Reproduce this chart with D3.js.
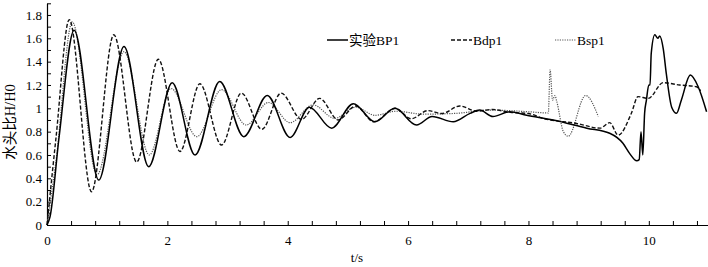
<!DOCTYPE html>
<html>
<head>
  <meta charset="utf-8">
  <script src="https://cdnjs.cloudflare.com/ajax/libs/d3/7.8.5/d3.min.js"></script>
  <style>
    body { margin: 0; background: #fff }
    text { font-family: "Liberation Serif", "Noto Sans CJK SC", serif; fill: #000 }
  </style>
</head>
<body>
  <div id="chart"></div>

  <script>
    // 实验BP1
    const expT = [0, 0.05, 0.2, 0.45, 0.86, 1.28, 1.69, 2.08, 2.46, 2.87, 3.27, 3.66, 4.04, 4.36, 4.73, 5.09, 5.45, 5.78, 6.14, 6.40, 6.75, 7.03, 7.19, 7.41, 7.69, 7.97, 8.41, 8.97, 9.35, 9.57, 9.68, 9.80, 9.84, 9.87, 9.90, 9.93, 9.96, 10.0, 10.02, 10.04, 10.10, 10.15, 10.18, 10.24, 10.29, 10.38, 10.46, 10.54, 10.69, 10.82, 10.96];
    const expV = [0, 0.07, 0.75, 1.67, 0.385, 1.53, 0.50, 1.22, 0.60, 1.23, 0.757, 1.11, 0.75, 1.01, 0.83, 1.04, 0.885, 1.0, 0.857, 0.93, 0.885, 0.957, 0.985, 0.93, 0.97, 0.94, 0.90, 0.83, 0.786, 0.70, 0.614, 0.55, 0.56, 0.80, 0.60, 0.957, 1.07, 1.2, 1.2, 1.47, 1.63, 1.60, 1.62, 1.51, 1.30, 1.01, 0.957, 1.07, 1.285, 1.185, 0.97];

    // Bdp1
    const bdpT = [0, 0.15, 0.37, 0.74, 1.11, 1.49, 1.85, 2.21, 2.54, 2.90, 3.23, 3.57, 3.89, 4.23, 4.53, 4.84, 5.13, 5.43, 5.79, 6.05, 6.33, 6.56, 6.86, 7.14, 7.40, 7.70, 8.0, 8.24, 8.80, 9.19, 9.35, 9.49, 9.71, 9.82, 9.99, 10.24, 10.51, 10.79, 10.86];
    const bdpV = [0, 0.75, 1.76, 0.285, 1.63, 0.54, 1.42, 0.63, 1.21, 0.685, 1.13, 0.82, 1.13, 0.905, 1.085, 0.90, 1.02, 0.885, 1.0, 0.91, 0.98, 0.955, 1.02, 0.975, 0.99, 0.965, 0.955, 0.914, 0.87, 0.83, 0.877, 0.77, 0.957, 1.10, 1.085, 1.22, 1.20, 1.185, 1.15];

    // Bsp1
    const bspT = [0, 0.15, 0.42, 0.83, 1.28, 1.70, 2.06, 2.49, 2.90, 3.31, 3.68, 4.04, 4.42, 4.78, 5.13, 5.45, 5.80, 6.25, 6.80, 7.36, 8.02, 8.33, 8.36, 8.40, 8.44, 8.47, 8.58, 8.66, 8.95, 9.16];
    const bspV = [0, 0.55, 1.74, 0.43, 1.485, 0.60, 1.17, 0.757, 1.16, 0.857, 1.05, 0.877, 1.03, 0.914, 1.01, 0.94, 0.975, 0.95, 0.957, 0.985, 0.97, 0.96, 1.33, 1.07, 1.11, 1.06, 0.80, 0.76, 1.11, 0.93];

    const xTicks = d3.range(0, 10.81, 0.4);
    const xLabels = [0, 2, 4, 6, 8, 10];
    const yTicks = d3.range(0, 1.91, 0.1);
    const yLabels = [0, 0.2, 0.4, 0.6, 0.8, 1, 1.2, 1.4, 1.6, 1.8];

    const width = 708, height = 267;

    const svg = d3.select('#chart').append('svg')
      .attr('width', width)
      .attr('height', height);

    const x = d3.scaleLinear().domain([0, 11]).range([47, 709]);
    const y = d3.scaleLinear().domain([0, 1.9]).range([225, 3.3]);

    // axes (tick marks point inward, like the original)
    const xAxis = svg.append('g')
      .attr('transform', `translate(0,${y(0)})`)
      .call(d3.axisBottom(x).tickValues(xTicks).tickSizeInner(-4).tickSizeOuter(0).tickFormat(''));
    xAxis.select('.domain').attr('stroke-width', 1.2);

    svg.append('g')
      .attr('transform', `translate(0,${y(0)})`)
      .call(d3.axisBottom(x).tickValues(xLabels).tickSize(0).tickPadding(11).tickFormat(d3.format('d')))
      .call(g => g.select('.domain').remove())
      .selectAll('text').attr('font-size', 13).attr('font-family', '"Liberation Serif", serif');

    const yAxis = svg.append('g')
      .attr('transform', `translate(${x(0)},0)`)
      .call(d3.axisLeft(y).tickValues(yTicks).tickSizeInner(-4).tickSizeOuter(0).tickFormat(''));
    yAxis.select('.domain').attr('stroke-width', 1.2);

    svg.append('g')
      .attr('transform', `translate(${x(0)},0)`)
      .call(d3.axisLeft(y).tickValues(yLabels).tickSize(0).tickPadding(5).tickFormat(d3.format('')))
      .call(g => g.select('.domain').remove())
      .selectAll('text').attr('font-size', 13).attr('font-family', '"Liberation Serif", serif');

    svg.append('text')
      .attr('x', 357).attr('y', 262)
      .attr('text-anchor', 'middle')
      .attr('font-size', 13)
      .text('t/s');

    svg.append('text')
      .attr('transform', 'translate(15,122) rotate(-90)')
      .attr('text-anchor', 'middle')
      .attr('font-size', 14.5)
      .text('水头比H/H0');

    // series
    const series = [
      { name: '实验BP1', t: expT, v: expV, dash: null, color: '#000', w: 1.5, lx: 327 },
      { name: 'Bdp1', t: bdpT, v: bdpV, dash: '4,2', color: '#111', w: 1.4, lx: 451 },
      { name: 'Bsp1', t: bspT, v: bspV, dash: '1.2,1.2', color: '#555', w: 1.2, lx: 555 }
    ];

    const line = d3.line()
      .x(d => x(d[0]))
      .y(d => y(d[1]))
      .curve(d3.curveMonotoneX);

    // draw dotted first, solid on top
    series.slice().reverse().forEach(s => {
      svg.append('path')
        .datum(s.t.map((t, i) => [t, s.v[i]]))
        .attr('fill', 'none')
        .attr('stroke', s.color)
        .attr('stroke-width', s.w)
        .attr('stroke-dasharray', s.dash)
        .attr('d', line);
    });

    // legend
    const legend = svg.append('g');
    series.forEach(s => {
      legend.append('line')
        .attr('x1', s.lx).attr('x2', s.lx + 21)
        .attr('y1', 40).attr('y2', 40)
        .attr('stroke', s.color)
        .attr('stroke-width', s.w)
        .attr('stroke-dasharray', s.dash);
      legend.append('text')
        .attr('x', s.lx + 22).attr('y', 45)
        .attr('font-size', 13.5)
        .text(s.name);
    });
  </script>
</body>
</html>
